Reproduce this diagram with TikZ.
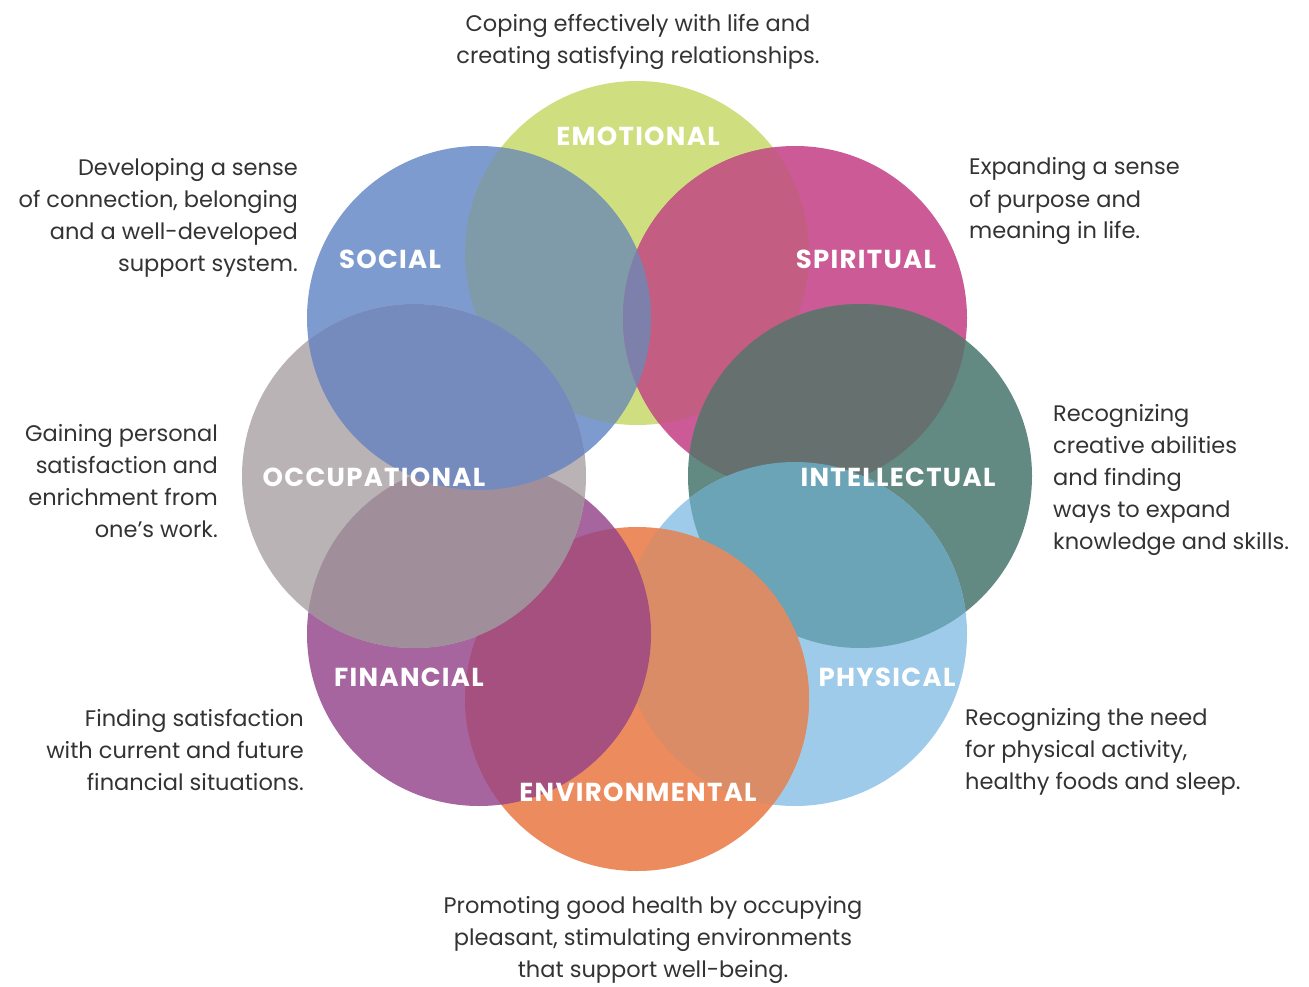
\documentclass[tikz,border=0pt]{standalone}
\usepackage{fontspec}
\setmainfont{Poppins}
\newfontfamily\labelfont[LetterSpace=5]{Poppins}
\usepackage{xcolor}
\usepackage{tikz}
\usetikzlibrary{positioning}

% ring colours
\definecolor{emotional}{HTML}{CFDF7F}
\definecolor{social}{HTML}{7E9BD0}
\definecolor{spiritual}{HTML}{CC5A96}
\definecolor{intellectual}{HTML}{628A82}
\definecolor{physical}{HTML}{9FCBEA}
\definecolor{environmental}{HTML}{EC8B5D}
\definecolor{financial}{HTML}{A6659F}
\definecolor{occupational}{HTML}{BAB3B6}
% overlap colours
\definecolor{socemo}{HTML}{7F9BA9}
\definecolor{spiremo}{HTML}{C35D82}
\definecolor{spirint}{HTML}{65706F}
\definecolor{intphys}{HTML}{6BA4B6}
\definecolor{envphys}{HTML}{DA8C66}
\definecolor{finenv}{HTML}{A5507E}
\definecolor{occfin}{HTML}{A08E9B}
\definecolor{sococc}{HTML}{758BBE}
\definecolor{socspir}{HTML}{7E80AC}

\begin{document}
\begin{tikzpicture}[
  x=1pt, y=-1pt,
  dim/.style={anchor=base, inner sep=0pt, text=white,
              font=\labelfont\bfseries\fontsize{26}{26}\selectfont},
  note/.style={inner sep=0pt, text=black!80,
               font=\fontsize{22.5}{32}\selectfont},
  noteL/.style={note, anchor=base east, align=right},
  noteR/.style={note, anchor=base west, align=left},
  noteC/.style={note, anchor=base, align=center}
]

\useasboundingbox (0,0) rectangle (1309,987);

% ---- Ring centres ----
\coordinate (emo)  at (637,253);
\coordinate (spir) at (795,318);
\coordinate (int)  at (860,476);
\coordinate (phys) at (795,634);
\coordinate (env)  at (637,699);
\coordinate (fin)  at (479,634);
\coordinate (occ)  at (414,476);
\coordinate (soc)  at (479,318);

% ---- Rings ----
\fill[emotional]     (emo)  circle (172);
\fill[social]        (soc)  circle (172);
\fill[spiritual]     (spir) circle (172);
\fill[intellectual]  (int)  circle (172);
\fill[physical]      (phys) circle (172);
\fill[environmental] (env)  circle (172);
\fill[financial]     (fin)  circle (172);
\fill[occupational]  (occ)  circle (172);

% ---- Overlaps of neighbouring rings ----
\begin{scope} \clip (soc)  circle (172); \fill[socemo]  (emo)  circle (172); \end{scope}
\begin{scope} \clip (spir) circle (172); \fill[spiremo] (emo)  circle (172); \end{scope}
\begin{scope} \clip (spir) circle (172); \fill[spirint] (int)  circle (172); \end{scope}
\begin{scope} \clip (int)  circle (172); \fill[intphys] (phys) circle (172); \end{scope}
\begin{scope} \clip (env)  circle (172); \fill[envphys] (phys) circle (172); \end{scope}
\begin{scope} \clip (fin)  circle (172); \fill[finenv]  (env)  circle (172); \end{scope}
\begin{scope} \clip (occ)  circle (172); \fill[occfin]  (fin)  circle (172); \end{scope}
\begin{scope} \clip (soc)  circle (172); \fill[sococc]  (occ)  circle (172); \end{scope}
% thin sliver where social meets spiritual
\begin{scope} \clip (soc)  circle (172); \fill[socspir] (spir) circle (172); \end{scope}

% ---- Ring labels ----
\node[dim] (emolbl)  at (638,146) {EMOTIONAL};
\node[dim] (soclbl)  at (390,268) {SOCIAL};
\node[dim] (spirlbl) at (866,268) {SPIRITUAL};
\node[dim] (occlbl)  at (374,486) {OCCUPATIONAL};
\node[dim] (intlbl)  at (898,486) {INTELLECTUAL};
\node[dim] (finlbl)  at (409,686) {FINANCIAL};
\node[dim] (physlbl) at (887,686) {PHYSICAL};
\node[dim] (envlbl)  at (638,801) {ENVIRONMENTAL};

% ---- Descriptions (anchored on their last line) ----
\node[noteC] (emotxt) at (638,64)
  {Coping effectively with life and\\creating satisfying relationships.};
\node[noteL] (soctxt) at (298,271)
  {Developing a sense\\of connection, belonging\\and a well-developed\\support system.};
\node[noteR] (spirtxt) at (969,239)
  {Expanding a sense\\of purpose and\\meaning in life.};
\node[noteL] (occtxt) at (218,537)
  {Gaining personal\\satisfaction and\\enrichment from\\one’s work.};
\node[noteR] (inttxt) at (1053,549)
  {Recognizing\\creative abilities\\and finding\\ways to expand\\knowledge and skills.};
\node[noteL] (fintxt) at (304,790)
  {Finding satisfaction\\with current and future\\financial situations.};
\node[noteR] (phystxt) at (965,789)
  {Recognizing the need\\for physical activity,\\healthy foods and sleep.};
\node[noteC] (envtxt) at (653,977)
  {Promoting good health by occupying\\pleasant, stimulating environments\\that support well-being.};

\end{tikzpicture}
\end{document}
